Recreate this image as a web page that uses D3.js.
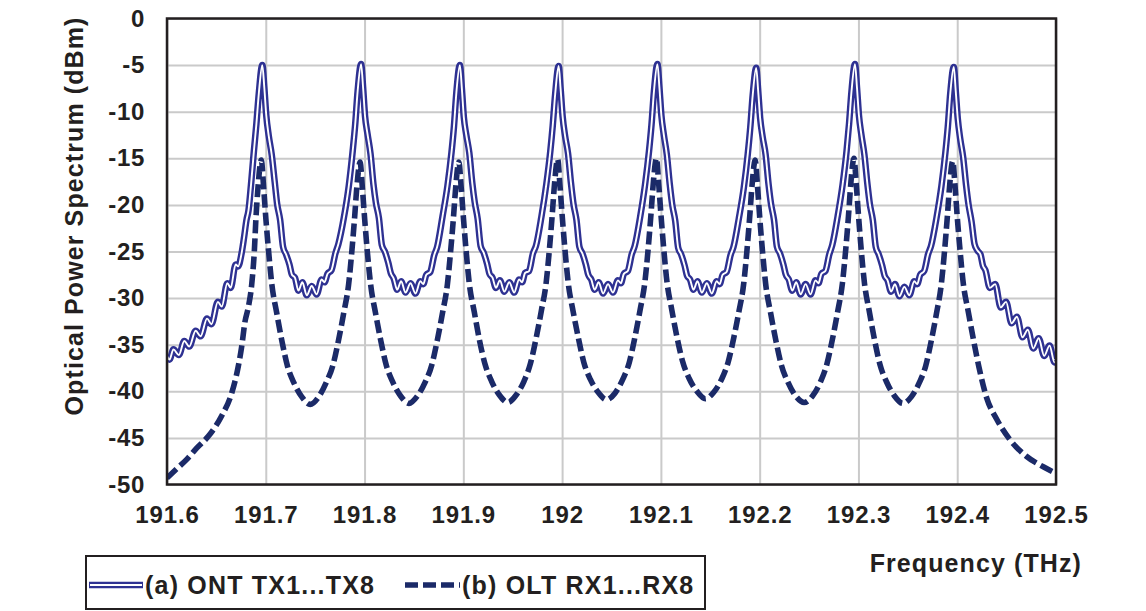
<!DOCTYPE html>
<html>
<head>
<meta charset="utf-8">
<script src="https://cdn.jsdelivr.net/npm/d3@7"></script>
<style>
  html, body { margin: 0; padding: 0; background: #fff; }
  svg { display: block; }
  text { font-family: "Liberation Sans", Arial, Helvetica, sans-serif; font-weight: bold; fill: #231f20; }
</style>
</head>
<body>
<svg id="chart" width="1146" height="611"></svg>
<script>
// Axis ticks
const xTickValues = [191.6, 191.7, 191.8, 191.9, 192.0, 192.1, 192.2, 192.3, 192.4, 192.5];
const xTickLabels = ["191.6", "191.7", "191.8", "191.9", "192", "192.1", "192.2", "192.3", "192.4", "192.5"];
const yTickValues = [0, -5, -10, -15, -20, -25, -30, -35, -40, -45, -50];
const yTickLabels = ["0", "-5", "-10", "-15", "-20", "-25", "-30", "-35", "-40", "-45", "-50"];

const seriesNames = ["(a) ONT TX1...TX8", "(b) OLT RX1...RX8"];

// (a) ONT transmitters: frequency (THz)
const ontFreq = [
  191.600, 191.6025, 191.6065, 191.612, 191.6175, 191.6225, 191.629, 191.634, 191.6405, 191.645,
  191.6515, 191.6555, 191.661, 191.6645, 191.6695, 191.672, 191.6755, 191.678, 191.6805, 191.6825,
  191.685, 191.688, 191.6905, 191.693,
  191.6965,
  191.6985, 191.7005, 191.703, 191.706, 191.709, 191.7115, 191.7145, 191.7175, 191.7205, 191.724,
  191.7265, 191.7295, 191.733, 191.737, 191.7415, 191.7465, 191.7515, 191.7565, 191.7595, 191.7625,
  191.7665, 191.7705, 191.7735, 191.779, 191.784, 191.788, 191.7905, 191.793,
  191.7965,
  191.7985, 191.8005, 191.803, 191.806, 191.809, 191.8115, 191.8145, 191.8175, 191.8205, 191.824,
  191.8265, 191.8295, 191.833, 191.837, 191.8415, 191.8465, 191.8515, 191.8565, 191.8595, 191.8625,
  191.8665, 191.8705, 191.8735, 191.879, 191.884, 191.888, 191.8905, 191.893,
  191.8965,
  191.8985, 191.9005, 191.903, 191.906, 191.909, 191.9115, 191.9145, 191.9175, 191.9205, 191.924,
  191.9265, 191.9295, 191.933, 191.937, 191.9415, 191.9465, 191.9515, 191.9565, 191.9595, 191.9625,
  191.9665, 191.9705, 191.9735, 191.979, 191.984, 191.988, 191.9905, 191.993,
  191.9965,
  191.9985, 192.0005, 192.003, 192.006, 192.009, 192.0115, 192.0145, 192.0175, 192.0205, 192.024,
  192.0265, 192.0295, 192.033, 192.037, 192.0415, 192.0465, 192.0515, 192.0565, 192.0595, 192.0625,
  192.0665, 192.0705, 192.0735, 192.079, 192.084, 192.088, 192.0905, 192.093,
  192.0965,
  192.0985, 192.1005, 192.103, 192.106, 192.109, 192.1115, 192.1145, 192.1175, 192.1205, 192.124,
  192.1265, 192.1295, 192.133, 192.137, 192.1415, 192.1465, 192.1515, 192.1565, 192.1595, 192.1625,
  192.1665, 192.1705, 192.1735, 192.179, 192.184, 192.188, 192.1905, 192.193,
  192.1965,
  192.1985, 192.2005, 192.203, 192.206, 192.209, 192.2115, 192.2145, 192.2175, 192.2205, 192.224,
  192.2265, 192.2295, 192.233, 192.237, 192.2415, 192.2465, 192.2515, 192.2565, 192.2595, 192.2625,
  192.2665, 192.2705, 192.2735, 192.279, 192.284, 192.288, 192.2905, 192.293,
  192.2965,
  192.2985, 192.3005, 192.303, 192.306, 192.309, 192.3115, 192.3145, 192.3175, 192.3205, 192.324,
  192.3265, 192.3295, 192.333, 192.337, 192.3415, 192.3465, 192.3515, 192.3565, 192.3595, 192.3625,
  192.3665, 192.3705, 192.3735, 192.379, 192.384, 192.388, 192.3905, 192.393,
  192.3965,
  192.3985, 192.4005, 192.403, 192.406, 192.409, 192.4115, 192.4145, 192.4175, 192.4205, 192.4235,
  192.426, 192.4285, 192.433, 192.4385, 192.444, 192.4495, 192.455, 192.4605, 192.466, 192.4715,
  192.477, 192.4825, 192.488, 192.4935, 192.4985, 192.500
];

// (a) ONT transmitters: power (dBm)
const ontDbm = [
  -36.2, -36.6, -35.5, -36.1, -34.6, -35.2, -33.5, -34.1, -32.2, -32.8,
  -30.4, -30.9, -28.4, -28.9, -26.4, -26.6, -25.2, -23.5, -21.6, -20.6,
  -17.9, -14.2, -11.3, -8.0,
  -5.0,
  -7.4, -10.4, -12.6, -14.6, -17.5, -19.9, -21.6, -24.5, -25.3, -26.4,
  -27.5, -27.8, -29.2, -28.3, -29.7, -28.7, -29.6, -28.0, -28.3, -27.4,
  -27.0, -25.2, -24.2, -21.4, -18.0, -14.2, -11.4, -7.8,
  -4.9,
  -7.4, -10.5, -12.4, -14.5, -17.8, -19.8, -21.4, -24.3, -25.0, -26.2,
  -27.3, -27.9, -29.1, -28.2, -29.4, -28.4, -29.5, -28.2, -28.5, -27.5,
  -27.2, -25.4, -24.5, -21.2, -17.9, -14.4, -11.6, -7.9,
  -5.0,
  -7.5, -10.6, -12.5, -14.4, -17.6, -19.7, -21.5, -24.4, -25.1, -26.3,
  -27.4, -27.8, -28.9, -28.1, -29.3, -28.3, -29.4, -28.0, -28.3, -27.3,
  -27.1, -25.2, -24.4, -21.3, -17.8, -14.3, -11.5, -8.1,
  -5.1,
  -7.6, -10.5, -12.6, -14.5, -17.7, -19.9, -21.6, -24.5, -25.2, -26.4,
  -27.5, -28.0, -29.1, -28.3, -29.5, -28.5, -29.4, -28.1, -28.4, -27.4,
  -27.1, -25.3, -24.4, -21.3, -17.8, -14.2, -11.4, -7.8,
  -4.9,
  -7.4, -10.4, -12.5, -14.6, -17.8, -20.0, -21.7, -24.6, -25.3, -26.5,
  -27.6, -28.0, -29.1, -28.2, -29.4, -28.4, -29.5, -28.2, -28.5, -27.5,
  -27.2, -25.4, -24.5, -21.4, -18.1, -14.5, -11.7, -8.2,
  -5.3,
  -7.8, -10.7, -12.7, -14.6, -17.8, -19.9, -21.6, -24.5, -25.2, -26.4,
  -27.5, -28.0, -29.2, -28.3, -29.6, -28.5, -29.6, -28.1, -28.4, -27.4,
  -27.1, -25.3, -24.3, -21.2, -17.8, -14.2, -11.3, -7.8,
  -4.9,
  -7.4, -10.4, -12.5, -14.6, -17.7, -19.9, -21.6, -24.5, -25.3, -26.5,
  -27.6, -28.1, -29.3, -28.5, -29.8, -28.8, -29.7, -28.2, -28.5, -27.5,
  -27.1, -25.3, -24.4, -21.4, -18.0, -14.4, -11.6, -8.0,
  -5.2,
  -7.8, -10.7, -12.9, -14.9, -17.9, -20.0, -21.8, -24.2, -24.9, -25.3,
  -26.5, -27.0, -28.9, -28.5, -31.0, -30.4, -32.7, -32.0, -34.2, -33.4,
  -35.4, -34.3, -36.2, -35.1, -36.9, -36.8
];

// (b) OLT receivers: frequency (THz)
const oltFreq = [
  191.600, 191.610, 191.620, 191.630, 191.642, 191.655, 191.6655, 191.6722, 191.6756, 191.679,
  191.6823, 191.6857, 191.6885, 191.690, 191.692,
  191.6955,
  191.6978, 191.7001, 191.7028, 191.7061, 191.7111, 191.7165, 191.722, 191.7285, 191.7365, 191.745,
  191.7535, 191.7615, 191.768, 191.7735, 191.7789, 191.7839, 191.7872, 191.7899, 191.7922,
  191.7955,
  191.7978, 191.8001, 191.8028, 191.8061, 191.8111, 191.8165, 191.822, 191.8285, 191.8365, 191.845,
  191.8535, 191.8615, 191.868, 191.8735, 191.8789, 191.8839, 191.8872, 191.8899, 191.8922,
  191.8955,
  191.8978, 191.9001, 191.9028, 191.9061, 191.9111, 191.9165, 191.922, 191.9285, 191.9365, 191.945,
  191.9535, 191.9615, 191.968, 191.9735, 191.9789, 191.9839, 191.9872, 191.9899, 191.9922,
  191.9955,
  191.9978, 192.0001, 192.0028, 192.0061, 192.0111, 192.0165, 192.022, 192.0285, 192.0365, 192.045,
  192.0535, 192.0615, 192.068, 192.0735, 192.0789, 192.0839, 192.0872, 192.0899, 192.0922,
  192.0955,
  192.0978, 192.1001, 192.1028, 192.1061, 192.1111, 192.1165, 192.122, 192.1285, 192.1365, 192.145,
  192.1535, 192.1615, 192.168, 192.1735, 192.1789, 192.1839, 192.1872, 192.1899, 192.1922,
  192.1955,
  192.1978, 192.2001, 192.2028, 192.2061, 192.2111, 192.2165, 192.222, 192.2285, 192.2365, 192.245,
  192.2535, 192.2615, 192.268, 192.2735, 192.2789, 192.2839, 192.2872, 192.2899, 192.2922,
  192.2955,
  192.2978, 192.3001, 192.3028, 192.3061, 192.3111, 192.3165, 192.322, 192.3285, 192.3365, 192.345,
  192.3535, 192.3615, 192.368, 192.3735, 192.3789, 192.3839, 192.3872, 192.3899, 192.3922,
  192.3955,
  192.3978, 192.4001, 192.4028, 192.4061, 192.4111, 192.4165, 192.422, 192.4298, 192.440, 192.4534,
  192.4703, 192.4871, 192.500
];

// (b) OLT receivers: power (dBm)
const oltDbm = [
  -49.3, -48.3, -47.3, -46.1, -44.8, -42.7, -40.2, -37.3, -35.2, -32.5,
  -31.0, -28.6, -24.8, -21.5, -18.3,
  -15.2,
  -18.1, -21.5, -24.9, -28.5, -31.6, -34.7, -37.3, -39.1, -40.6, -41.4,
  -40.6, -39.0, -37.2, -34.6, -31.6, -28.5, -24.9, -21.4, -18.1,
  -15.4,
  -18.2, -21.5, -25.0, -28.5, -31.6, -34.6, -37.2, -39.0, -40.5, -41.3,
  -40.5, -39.0, -37.2, -34.6, -31.6, -28.5, -24.9, -21.5, -18.2,
  -15.4,
  -18.1, -21.4, -24.9, -28.5, -31.5, -34.6, -37.1, -38.9, -40.4, -41.2,
  -40.4, -38.9, -37.0, -34.4, -31.4, -28.3, -24.7, -21.2, -17.9,
  -15.1,
  -17.9, -21.2, -24.7, -28.3, -31.4, -34.3, -36.9, -38.7, -40.1, -40.9,
  -40.2, -38.7, -36.9, -34.3, -31.3, -28.2, -24.6, -21.1, -17.8,
  -15.0,
  -17.8, -21.1, -24.6, -28.2, -31.3, -34.3, -36.8, -38.6, -40.0, -40.8,
  -40.1, -38.7, -36.9, -34.4, -31.5, -28.4, -24.8, -21.3, -18.0,
  -15.2,
  -18.0, -21.4, -24.9, -28.5, -31.6, -34.6, -37.2, -39.0, -40.5, -41.2,
  -40.5, -39.0, -37.1, -34.5, -31.5, -28.3, -24.7, -21.2, -17.8,
  -15.0,
  -17.8, -21.2, -24.8, -28.4, -31.5, -34.6, -37.2, -39.0, -40.5, -41.3,
  -40.6, -39.1, -37.3, -34.7, -31.7, -28.5, -24.9, -21.4, -18.1,
  -15.3,
  -18.0, -21.4, -24.8, -28.4, -31.4, -34.5, -37.4, -40.7, -43.0, -45.2,
  -47.0, -48.1, -48.8
];

const ontColor = "#2e3192";
const oltColor = "#1b2a68";
const inkColor = "#231f20";
const gridColor = "#cacaca";

const svg = d3.select("#chart");
const plot = { left: 167, right: 1056, top: 18.5, bottom: 484.5 };

const x = d3.scaleLinear().domain([191.6, 192.5]).range([plot.left, plot.right]);
const y = d3.scaleLinear().domain([-50, 0]).range([plot.bottom, plot.top]);

// Gridlines
svg.append("g")
  .attr("transform", `translate(0,${plot.bottom})`)
  .call(d3.axisBottom(x).tickValues(xTickValues).tickSize(-(plot.bottom - plot.top)).tickFormat(""))
  .call(g => g.select(".domain").remove())
  .call(g => g.selectAll("line").attr("stroke", gridColor).attr("stroke-width", 2));

svg.append("g")
  .attr("transform", `translate(${plot.left},0)`)
  .call(d3.axisLeft(y).tickValues(yTickValues).tickSize(-(plot.right - plot.left)).tickFormat(""))
  .call(g => g.select(".domain").remove())
  .call(g => g.selectAll("line").attr("stroke", gridColor).attr("stroke-width", 2));

// Tick labels
svg.append("g")
  .attr("transform", `translate(0,${plot.bottom})`)
  .call(d3.axisBottom(x).tickValues(xTickValues).tickSize(0).tickPadding(21)
    .tickFormat((d, i) => xTickLabels[i]))
  .call(g => g.select(".domain").remove())
  .call(g => g.selectAll("text")
    .attr("fill", inkColor).style("font-size", "24px").style("letter-spacing", "0.9px")
    .style("font-family", null));

svg.append("g")
  .attr("transform", `translate(${plot.left},0)`)
  .call(d3.axisLeft(y).tickValues(yTickValues).tickSize(0).tickPadding(22)
    .tickFormat((d, i) => yTickLabels[i]))
  .call(g => g.select(".domain").remove())
  .call(g => g.selectAll("text")
    .attr("fill", inkColor).style("font-size", "24px").style("letter-spacing", "0.7px")
    .style("font-family", null));

// Series lines
const ontData = ontFreq.map((f, i) => [f, ontDbm[i]]);
const oltData = oltFreq.map((f, i) => [f, oltDbm[i]]);

const line = d3.line()
  .x(d => x(d[0]))
  .y(d => y(d[1]))
  .curve(d3.curveMonotoneX);

svg.append("clipPath").attr("id", "plot-clip")
  .append("rect")
  .attr("x", plot.left).attr("y", plot.top - 8)
  .attr("width", plot.right - plot.left).attr("height", plot.bottom - plot.top + 8);

const series = svg.append("g").attr("clip-path", "url(#plot-clip)");

// double-stroke line for the ONT spectrum
series.append("path").datum(ontData)
  .attr("d", line).attr("fill", "none")
  .attr("stroke", ontColor).attr("stroke-width", 6.6).attr("stroke-linejoin", "round");
series.append("path").datum(ontData)
  .attr("d", line).attr("fill", "none")
  .attr("stroke", "#fff").attr("stroke-width", 1.9).attr("stroke-linejoin", "round");

// dashed OLT spectrum
series.append("path").datum(oltData)
  .attr("d", line).attr("fill", "none")
  .attr("stroke", oltColor).attr("stroke-width", 5.6)
  .attr("stroke-dasharray", "13,5").attr("stroke-linejoin", "round");

// Plot frame
svg.append("rect")
  .attr("x", plot.left).attr("y", plot.top)
  .attr("width", plot.right - plot.left).attr("height", plot.bottom - plot.top)
  .attr("fill", "none").attr("stroke", inkColor).attr("stroke-width", 2.5);

// Axis titles
svg.append("text")
  .attr("transform", "translate(83,216) rotate(-90)")
  .attr("text-anchor", "middle")
  .style("font-size", "25px").style("letter-spacing", "1.1px")
  .text("Optical Power Spectrum (dBm)");

svg.append("text")
  .attr("x", 1082).attr("y", 572)
  .attr("text-anchor", "end")
  .style("font-size", "25px").style("letter-spacing", "1.1px")
  .text("Frequency (THz)");

// Legend
const legend = svg.append("g");
legend.append("rect")
  .attr("x", 86).attr("y", 556).attr("width", 619).attr("height", 53)
  .attr("fill", "#fff").attr("stroke", inkColor).attr("stroke-width", 2);

legend.append("line")
  .attr("x1", 89).attr("x2", 143).attr("y1", 585).attr("y2", 585)
  .attr("stroke", ontColor).attr("stroke-width", 6.6);
legend.append("line")
  .attr("x1", 90).attr("x2", 142).attr("y1", 585).attr("y2", 585)
  .attr("stroke", "#fff").attr("stroke-width", 1.9);
legend.append("text")
  .attr("x", 145).attr("y", 594)
  .style("font-size", "25px").style("letter-spacing", "1.2px")
  .text(seriesNames[0]);

legend.append("line")
  .attr("x1", 405).attr("x2", 460).attr("y1", 585).attr("y2", 585)
  .attr("stroke", oltColor).attr("stroke-width", 5.6)
  .attr("stroke-dasharray", "13,5");
legend.append("text")
  .attr("x", 462).attr("y", 594)
  .style("font-size", "25px").style("letter-spacing", "1.2px")
  .text(seriesNames[1]);
</script>
</body>
</html>
